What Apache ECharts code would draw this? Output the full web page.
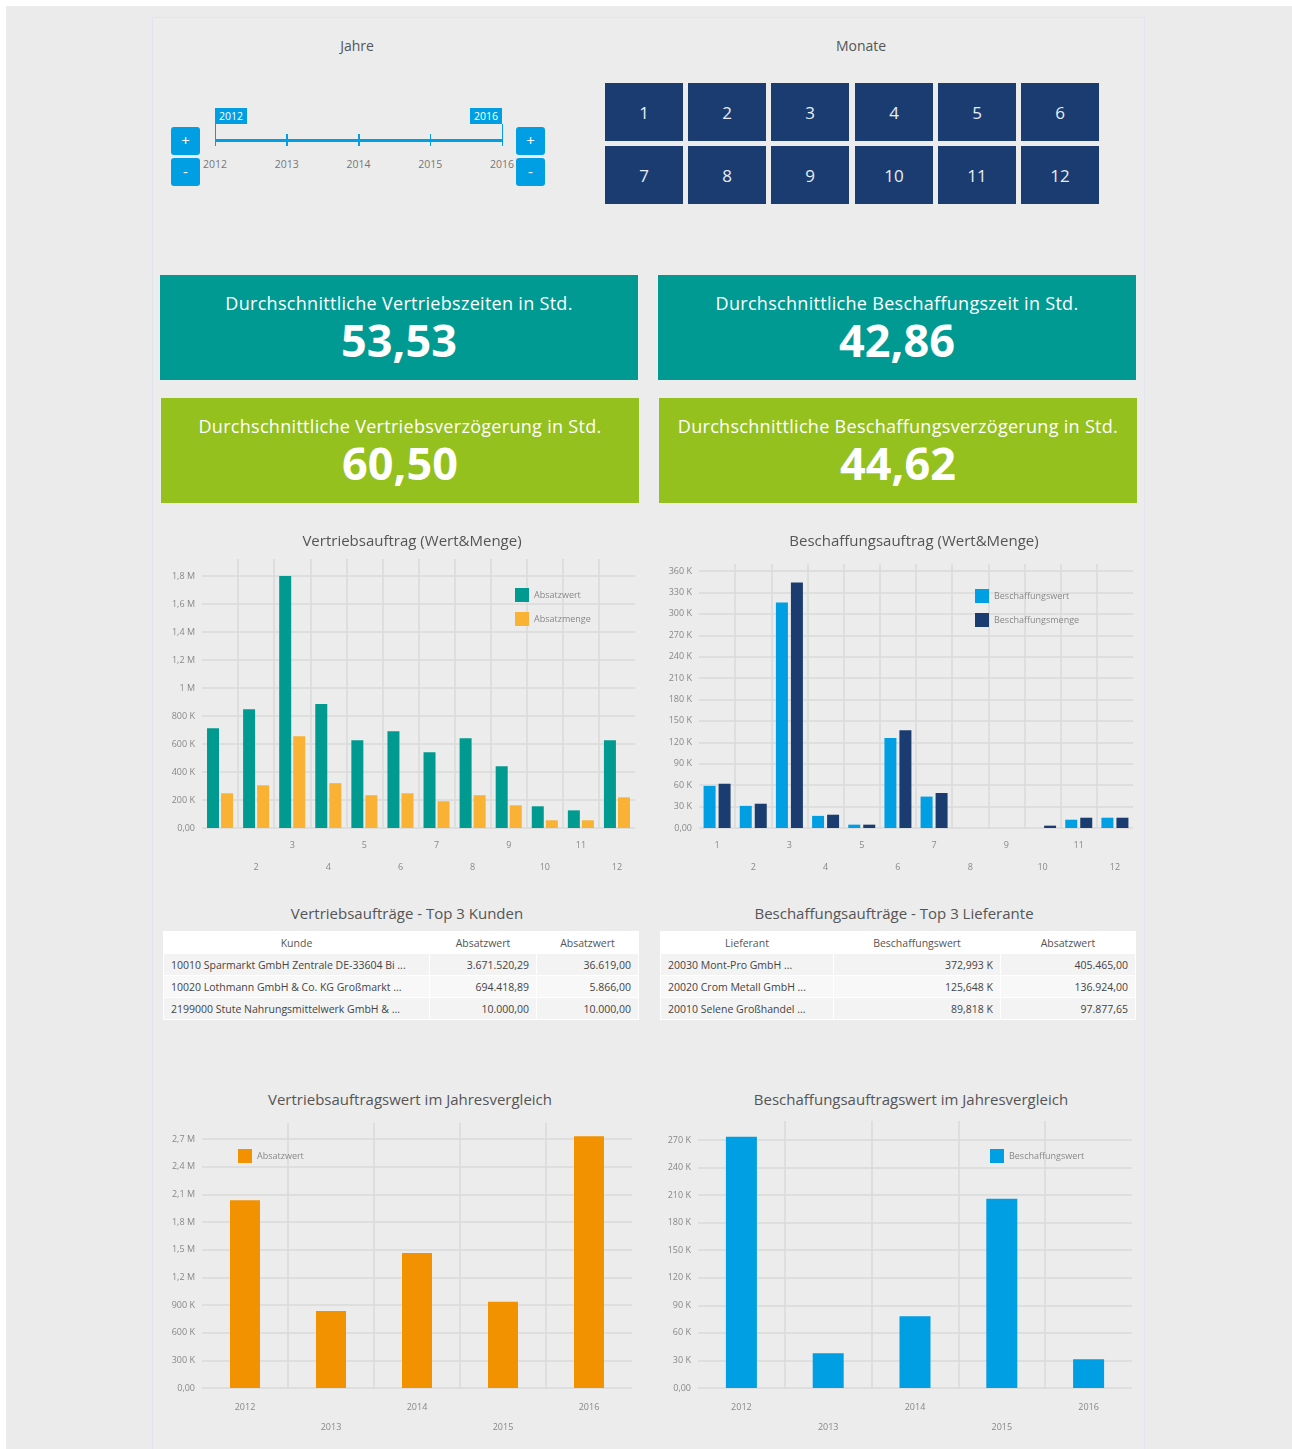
<!DOCTYPE html>
<html>
<head>
<meta charset="utf-8">
<script src="https://cdn.jsdelivr.net/npm/echarts@6/dist/echarts.min.js"></script>
<style>
body{margin:0;width:1292px;height:1449px;background:#fff;font-family:'Open Sans',sans-serif;overflow:hidden;position:relative}
#bg{position:absolute;left:6px;top:6px;width:1286px;height:1443px;background:#ebebeb}
#panel{position:absolute;left:152px;top:17px;width:991px;height:1440px;border:1px solid #dfe5eb;border-bottom:none;background:#ececec}
.abs{position:absolute}
.head{color:#555;font-size:14px;text-align:center}
.btn{position:absolute;width:29px;height:28px;border-radius:3px;background:#009fe3;color:#fff;font-size:15px;line-height:27px;text-align:center}
.cell{position:absolute;width:78px;height:58px;background:#1b3c71;color:#e8eef6;font-size:17px;line-height:60px;text-align:center}
.kpi{position:absolute;width:478px;height:105px;color:#fff;text-align:center}
.kpi .t{position:absolute;left:0;right:0;top:17px;line-height:22px;font-size:18px;letter-spacing:0.3px}
.kpi .v{position:absolute;left:0;right:0;top:39px;line-height:52px;font-size:45px;font-weight:bold}
.ttl{position:absolute;color:#555;font-size:15px;text-align:center;width:480px}
table{position:absolute;border-collapse:collapse;font-size:10.5px;color:#444;table-layout:fixed}
td,th{height:21px;padding:0 7px;border:1px solid #fff;white-space:nowrap;overflow:hidden}
th{font-weight:normal;color:#555;background:#fff;text-align:center}
tr.r1 td,tr.r3 td{background:#f3f3f3}
tr.r2 td{background:#f8f8f8}
td.n{text-align:right}
.chart{position:absolute}
</style>
</head>
<body>
<div id="bg"></div>
<div id="panel"></div>
<div id="ui"></div>
<div id="c1" class="chart" style="left:160px;top:530px;width:480px;height:350px"></div>
<div id="c2" class="chart" style="left:655px;top:530px;width:485px;height:350px"></div>
<div id="c3" class="chart" style="left:160px;top:1090px;width:480px;height:355px"></div>
<div id="c4" class="chart" style="left:655px;top:1090px;width:485px;height:355px"></div>
<script>
// Filter
var jahre = ['2012', '2013', '2014', '2015', '2016'];
var monate = ['1', '2', '3', '4', '5', '6', '7', '8', '9', '10', '11', '12'];

// Kennzahlen
var kpiTitel = ['Durchschnittliche Vertriebszeiten in Std.', 'Durchschnittliche Beschaffungszeit in Std.',
    'Durchschnittliche Vertriebsverzögerung in Std.', 'Durchschnittliche Beschaffungsverzögerung in Std.'];
var kpiWerte = ['53,53', '42,86', '60,50', '44,62'];

// Monatswerte
var absatzwert = [713000, 849000, 1800000, 885000, 627000, 691000, 541000, 641000, 441000, 155000, 126000, 627000];
var absatzmenge = [248000, 305000, 656000, 320000, 234000, 248000, 191000, 234000, 162000, 55000, 55000, 219000];
var beschaffungswert = [59000, 31000, 316000, 17000, 4700, 126000, 44000, 0, 0, 0, 11600, 14400];
var beschaffungsmenge = [62000, 34000, 344000, 18600, 4700, 137000, 49000, 0, 0, 3300, 14400, 14400];

// Jahreswerte
var absatzwertJahr = [2037000, 836000, 1464000, 934000, 2729000];
var beschaffungswertJahr = [273600, 37800, 78200, 206000, 31300];

// Top 3
var kunden = ['10010 Sparmarkt GmbH Zentrale DE-33604 Bi ...', '10020 Lothmann GmbH & Co. KG Großmarkt ...', '2199000 Stute Nahrungsmittelwerk GmbH & ...'];
var kundenWert = ['3.671.520,29', '694.418,89', '10.000,00'];
var kundenMenge = ['36.619,00', '5.866,00', '10.000,00'];
var lieferanten = ['20030 Mont-Pro GmbH ...', '20020 Crom Metall GmbH ...', '20010 Selene Großhandel ...'];
var lieferantWert = ['372,993 K', '125,648 K', '89,818 K'];
var lieferantAbsatz = ['405.465,00', '136.924,00', '97.877,65'];

var ui = document.getElementById('ui');
function el(cls, css, text) {
    var d = document.createElement('div');
    d.className = cls;
    d.style.cssText = css;
    if (text != null) d.textContent = text;
    ui.appendChild(d);
    return d;
}

// Jahre
el('abs head', 'left:257px;top:36px;width:200px', 'Jahre');
el('abs', 'left:215px;top:139px;width:287px;height:3px;background:#009fe3');
jahre.forEach(function (j, i) {
    var x = 215 + i * 71.75;
    var end = i === 0 || i === jahre.length - 1;
    el('abs', 'left:' + (x - 0.5) + 'px;top:' + (end ? 124 : 134) + 'px;width:1.5px;height:' + (end ? 22 : 12) + 'px;background:#009fe3');
    el('abs', 'left:' + (x - 30) + 'px;top:157px;width:60px;text-align:center;font-size:10.5px;color:#777', j);
});
el('abs', 'left:215px;top:108px;width:32px;height:16px;background:#009fe3;color:#fff;font-size:10.5px;line-height:16px;text-align:center', jahre[0]);
el('abs', 'left:470px;top:108px;width:32px;height:16px;background:#009fe3;color:#fff;font-size:10.5px;line-height:16px;text-align:center', jahre[4]);
el('btn', 'left:171px;top:127px', '+');
el('btn', 'left:171px;top:158px', '-');
el('btn', 'left:516px;top:127px', '+');
el('btn', 'left:516px;top:158px', '-');

// Monate
el('abs head', 'left:761px;top:36px;width:200px', 'Monate');
monate.forEach(function (m, i) {
    var col = i % 6, row = Math.floor(i / 6);
    el('cell', 'left:' + Math.round(605 + col * 83.2) + 'px;top:' + (83 + row * 63) + 'px', m);
});

// Kennzahlen
var kpiPos = [[160, 275, '#009a93'], [658, 275, '#009a93'], [161, 398, '#95c11f'], [659, 398, '#95c11f']];
kpiTitel.forEach(function (t, i) {
    var b = el('kpi', 'left:' + kpiPos[i][0] + 'px;top:' + kpiPos[i][1] + 'px;background:' + kpiPos[i][2]);
    var a = document.createElement('div'); a.className = 't'; a.textContent = t; b.appendChild(a);
    var v = document.createElement('div'); v.className = 'v'; v.textContent = kpiWerte[i]; b.appendChild(v);
});

// Tabellen
el('ttl', 'left:167px;top:903px', 'Vertriebsaufträge - Top 3 Kunden');
el('ttl', 'left:654px;top:903px', 'Beschaffungsaufträge - Top 3 Lieferante');
el('ttl', 'left:170px;top:1089px', 'Vertriebsauftragswert im Jahresvergleich');
el('ttl', 'left:671px;top:1089px', 'Beschaffungsauftragswert im Jahresvergleich');

function tabelle(left, widths, kopf, c1, c2, c3) {
    var t = document.createElement('table');
    t.style.left = left + 'px';
    t.style.top = '931px';
    var html = '<colgroup>' + widths.map(function (w) { return '<col style="width:' + w + 'px">'; }).join('') + '</colgroup>';
    html += '<tr>' + kopf.map(function (k) { return '<th>' + k + '</th>'; }).join('') + '</tr>';
    for (var i = 0; i < c1.length; i++) {
        html += '<tr class="r' + (i + 1) + '"><td>' + c1[i].replace(/&/g, '&amp;') + '</td><td class="n">' + c2[i] + '</td><td class="n">' + c3[i] + '</td></tr>';
    }
    t.innerHTML = html;
    ui.appendChild(t);
}
tabelle(163, [266, 107, 102], ['Kunde', 'Absatzwert', 'Absatzwert'], kunden, kundenWert, kundenMenge);
tabelle(660, [173, 167, 135], ['Lieferant', 'Beschaffungswert', 'Absatzwert'], lieferanten, lieferantWert, lieferantAbsatz);

// Diagramme
function fmtAchse(v) {
    if (v === 0) return '0,00';
    if (v >= 1000000) return String(Math.round(v / 100000) / 10).replace('.', ',') + ' M';
    return Math.round(v / 1000) + ' K';
}
var gridFarbe = '#dadada';

function balken(c) {
    var n = c.cats.length;
    var w = c.w - c.grid.left - c.grid.right;
    var cw = w / n;
    return {
        animation: false,
        textStyle: {fontFamily: 'Open Sans'},
        title: {
            text: c.title, left: c.titleX, top: c.titleTop, textAlign: 'center',
            textStyle: {fontSize: 15, fontWeight: 'normal', color: '#555'}
        },
        legend: {
            orient: 'vertical', left: c.legend[0], top: c.legend[1], icon: 'rect',
            itemWidth: 14, itemHeight: 14, itemGap: 10,
            textStyle: {fontSize: 9, color: '#888'}
        },
        grid: [
            {left: c.grid.left, right: c.grid.right, top: c.grid.top, bottom: c.grid.bottom},
            {left: c.grid.left + cw, right: c.grid.right + cw, top: c.lineTop, bottom: c.grid.bottom}
        ],
        xAxis: [{
            type: 'category', data: c.cats, gridIndex: 0,
            axisLine: {show: false}, axisTick: {show: false}, splitLine: {show: false},
            axisLabel: {
                interval: 0, fontSize: 9, color: '#888', margin: c.margin, lineHeight: c.lh,
                formatter: function (v, i) {
                    if (c.hideFirst && i === 0) return '';
                    return i % 2 ? '\n' + v : v;
                }
            }
        }, {
            type: 'value', gridIndex: 1, min: 1, max: n - 1, interval: 1,
            axisLabel: {show: false}, axisLine: {show: false}, axisTick: {show: false},
            splitLine: {show: true, lineStyle: {color: gridFarbe, width: 1.5}}
        }],
        yAxis: [{
            type: 'value', gridIndex: 0, min: 0, max: c.max, interval: c.interval,
            axisLine: {show: false}, axisTick: {show: false},
            axisLabel: {formatter: fmtAchse, fontSize: 9, color: '#888', margin: 7},
            splitLine: {lineStyle: {color: gridFarbe, width: 1.5}}
        }, {
            type: 'value', gridIndex: 1, show: false, splitLine: {show: false}
        }],
        series: c.series
    };
}

var chart1 = echarts.init(document.getElementById('c1'));
chart1.setOption(balken({
    w: 480, title: 'Vertriebsauftrag (Wert&Menge)', titleX: 247, titleTop: -1,
    legend: [350, 53], grid: {left: 42, right: 5, top: 46, bottom: 52}, lineTop: 29,
    cats: monate, max: 1800000, interval: 200000, margin: 6, lh: 22, hideFirst: true,
    series: [
        {name: 'Absatzwert', type: 'bar', data: absatzwert, barWidth: 12, barGap: '17%', clip: false, itemStyle: {color: '#009a90'}},
        {name: 'Absatzmenge', type: 'bar', data: absatzmenge, barWidth: 12, barGap: '17%', clip: false, itemStyle: {color: '#f9b233'}}
    ]
}));

var chart2 = echarts.init(document.getElementById('c2'));
chart2.setOption(balken({
    w: 485, title: 'Beschaffungsauftrag (Wert&Menge)', titleX: 254, titleTop: -1,
    legend: [315, 54], grid: {left: 44, right: 7, top: 41, bottom: 52}, lineTop: 34,
    cats: monate, max: 360000, interval: 30000, margin: 6, lh: 22, hideFirst: false,
    series: [
        {name: 'Beschaffungswert', type: 'bar', data: beschaffungswert, barWidth: 12, barGap: '25%', clip: false, itemStyle: {color: '#009fe3'}},
        {name: 'Beschaffungsmenge', type: 'bar', data: beschaffungsmenge, barWidth: 12, barGap: '25%', clip: false, itemStyle: {color: '#1b3c71'}}
    ]
}));

var chart3 = echarts.init(document.getElementById('c3'));
chart3.setOption(balken({
    w: 480, title: '', titleX: 250, titleTop: 2,
    legend: [73, 54], grid: {left: 42, right: 8, top: 49, bottom: 57}, lineTop: 33,
    cats: jahre, max: 2700000, interval: 300000, margin: 9, lh: 20, hideFirst: false,
    series: [
        {name: 'Absatzwert', type: 'bar', data: absatzwertJahr, barWidth: 30, clip: false, itemStyle: {color: '#f39200'}}
    ]
}));

var chart4 = echarts.init(document.getElementById('c4'));
chart4.setOption(balken({
    w: 485, title: '', titleX: 256, titleTop: 2,
    legend: [330, 54], grid: {left: 43, right: 8, top: 50, bottom: 57}, lineTop: 31,
    cats: jahre, max: 270000, interval: 30000, margin: 9, lh: 20, hideFirst: false,
    series: [
        {name: 'Beschaffungswert', type: 'bar', data: beschaffungswertJahr, barWidth: 31, clip: false, itemStyle: {color: '#009fe3'}}
    ]
}));
</script>
</body>
</html>
